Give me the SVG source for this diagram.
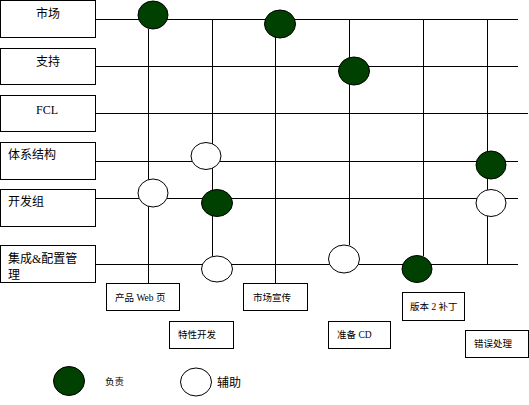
<svg xmlns="http://www.w3.org/2000/svg" width="529" height="405" viewBox="0 0 529 405">
<style>
.box{fill:#fff;stroke:#000;stroke-width:1}
.ln{stroke:#000;stroke-width:1;fill:none}
.dk{fill:#004000;stroke:#000;stroke-width:1}
.op{fill:#fff;stroke:#000;stroke-width:1}
.t{font-family:"Liberation Serif","Noto Sans CJK SC",serif;font-size:12px;fill:#000}
.s{font-family:"Liberation Serif","Noto Sans CJK SC",serif;font-size:9.5px;fill:#000}
</style>
<rect width="529" height="405" fill="#fff"/>
<g id="connectors">
<line class="ln" x1="95" y1="19.5" x2="518" y2="19.5"/>
<line class="ln" x1="95" y1="66.5" x2="518" y2="66.5"/>
<line class="ln" x1="95" y1="113.5" x2="528" y2="113.5"/>
<line class="ln" x1="95" y1="161.5" x2="518" y2="161.5"/>
<line class="ln" x1="95" y1="198.5" x2="518" y2="198.5"/>
<line class="ln" x1="95" y1="264.5" x2="518" y2="264.5"/>
<line class="ln" x1="148.5" y1="29" x2="148.5" y2="283"/>
<line class="ln" x1="212.5" y1="19" x2="212.5" y2="256"/>
<line class="ln" x1="275.5" y1="37" x2="275.5" y2="283"/>
<line class="ln" x1="349.5" y1="19" x2="349.5" y2="245"/>
<line class="ln" x1="423.5" y1="19" x2="423.5" y2="256"/>
<line class="ln" x1="487.5" y1="19" x2="487.5" y2="264"/>
</g>
<g id="role-market"><rect class="box" x="0.5" y="0.5" width="95" height="37"/><text class="t" x="48" y="18" text-anchor="middle">市场</text></g>
<g id="role-support"><rect class="box" x="0.5" y="48.5" width="95" height="36"/><text class="t" x="48" y="66" text-anchor="middle">支持</text></g>
<g id="role-fcl"><rect class="box" x="0.5" y="95.5" width="95" height="36"/><text class="t" x="47" y="114" text-anchor="middle" font-size="13">FCL</text></g>
<g id="role-arch"><rect class="box" x="0.5" y="142.5" width="95" height="37"/><text class="t" x="8" y="159">体系结构</text></g>
<g id="role-dev"><rect class="box" x="0.5" y="189.5" width="95" height="37"/><text class="t" x="8" y="206">开发组</text></g>
<g id="role-cm"><rect class="box" x="0.5" y="245.5" width="95" height="37"/><text class="t" x="8" y="263">集成&amp;配置管</text><text class="t" x="8" y="279">理</text></g>
<g id="task-web"><rect class="box" x="106.5" y="283.5" width="73" height="27"/><text class="s" x="115" y="301">产品 Web 页</text></g>
<g id="task-promo"><rect class="box" x="243.5" y="283.5" width="64" height="27"/><text class="s" x="253" y="301">市场宣传</text></g>
<g id="task-feature"><rect class="box" x="169.5" y="321.5" width="64" height="27"/><text class="s" x="178" y="338">特性开发</text></g>
<g id="task-cd"><rect class="box" x="328.5" y="321.5" width="62" height="27"/><text class="s" x="337" y="338">准备 CD</text></g>
<g id="task-patch"><rect class="box" x="402.5" y="292.5" width="62" height="28"/><text class="s" x="410" y="310">版本 2 补丁</text></g>
<g id="task-bug"><rect class="box" x="465.5" y="330.5" width="63" height="27"/><text class="s" x="474" y="347">错误处理</text></g>
<g id="marks">
<ellipse class="dk" cx="153" cy="15" rx="15" ry="14"/>
<ellipse class="dk" cx="280" cy="24" rx="15.5" ry="14"/>
<ellipse class="dk" cx="354" cy="71" rx="15.5" ry="14"/>
<ellipse class="op" cx="206" cy="156" rx="15" ry="13.5"/>
<ellipse class="dk" cx="491" cy="165" rx="15" ry="14"/>
<ellipse class="op" cx="153" cy="193" rx="15" ry="14"/>
<ellipse class="dk" cx="217" cy="203" rx="15.5" ry="13.5"/>
<ellipse class="op" cx="491" cy="203" rx="15" ry="13.5"/>
<ellipse class="op" cx="217" cy="269" rx="15.5" ry="13"/>
<ellipse class="op" cx="344" cy="259" rx="15.5" ry="14"/>
<ellipse class="dk" cx="417" cy="269" rx="15" ry="13.5"/>
</g>
<g id="legend">
<ellipse class="dk" cx="69" cy="381" rx="15.5" ry="14.5"/>
<text class="s" x="105" y="385">负责</text>
<ellipse class="op" cx="196" cy="382" rx="15.5" ry="14"/>
<text class="t" x="217" y="387">辅助</text>
</g>
</svg>
